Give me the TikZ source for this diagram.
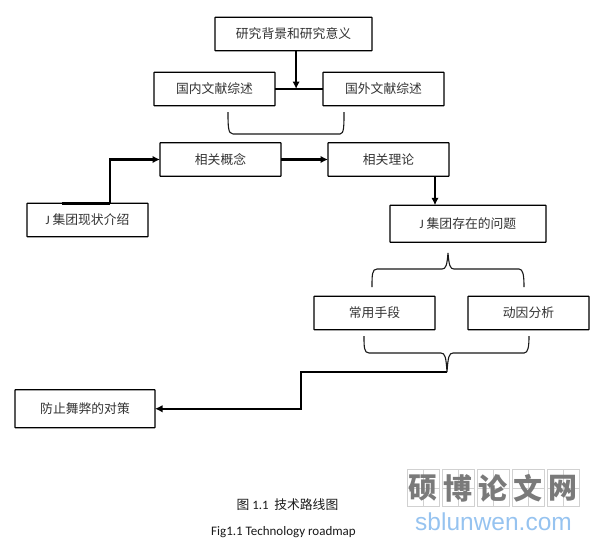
\documentclass[tikz,border=0pt]{standalone}
\usepackage{fontspec}
\setmainfont{Carlito}
\newfontfamily\cjk{Noto Sans CJK SC}
\newfontfamily\arialfont{Liberation Sans}
\usetikzlibrary{positioning, arrows.meta, calc}
\definecolor{markblue}{RGB}{150, 195, 240}

\begin{document}
\begin{tikzpicture}[
    x=1pt,
    y=1pt,
    >={Latex[length=7.5pt,width=7.5pt]},
    % -------------------------------------------------
    % Node styles
    % -------------------------------------------------
    stage/.style={
        rectangle,
        rounded corners=0.4pt,
        draw=black,
        line width=1.1pt,
        fill=white,
        minimum width=121pt,
        minimum height=33.5pt,
        outer sep=0pt,
        inner sep=0pt,
        align=center,
        text=black!80,
        font=\cjk\fontsize{12.8}{15}\selectfont
    },
    caption/.style={
        inner sep=0pt,
        text=black!90
    },
    % -------------------------------------------------
    % Connections
    % -------------------------------------------------
    arrow/.style={
        ->,
        line width=2.1pt,
        draw=black
    },
    joinline/.style={
        line width=2.1pt,
        draw=black
    },
    bracket/.style={
        line width=1.1pt,
        draw=black!90
    },
    % -------------------------------------------------
    % Watermark
    % -------------------------------------------------
    markcell/.style={
        rectangle,
        draw=black!18,
        line width=0.7pt,
        minimum width=31.7pt,
        minimum height=37pt,
        inner sep=0pt,
        text=black!52,
        font=\cjk\bfseries\fontsize{29}{29}\selectfont
    }
]

\useasboundingbox (0,0) rectangle (596,-541);

% =====================================================
% Background and Literature
% =====================================================

\node[stage, minimum width=157pt] (background) at (293.5,-34)
    {研究背景和研究意义};

\node[stage, below left=21.5pt and -60pt of background] (domestic)
    {国内文献综述};

\node[stage, right=48pt of domestic] (foreign)
    {国外文献综述};

% =====================================================
% Concepts and Theory
% =====================================================

\node[stage, below=37pt of domestic, xshift=6pt] (concept)
    {相关概念};

\node[stage, right=47pt of concept] (theory)
    {相关理论};

\node[stage, below left=27pt and 12pt of concept] (status)
    {{\rmfamily J} 集团现状介绍};

% =====================================================
% Problems and Analysis
% =====================================================

\node[stage, minimum width=156pt, minimum height=37pt,
      below right=29pt and -59pt of theory] (problem)
    {{\rmfamily J} 集团存在的问题};

\node[stage, below left=54pt and -45pt of problem] (means)
    {常用手段};

\node[stage, right=33pt of means] (motive)
    {动因分析};

\node[stage, minimum width=140pt, minimum height=38pt,
      below left=60pt and 159pt of means] (counter)
    {防止舞弊的对策};

% =====================================================
% Main Flow
% =====================================================

\coordinate (junction) at ($(domestic.east)!0.44!(foreign.west)$);
\coordinate (uppertip) at (448,-253);
\coordinate (lowertip) at (447,-372);

\draw[joinline]
    (domestic) -- (foreign);

\draw[arrow]
    (background.south -| junction) -- (junction);

\draw[arrow]
    (concept) -- (theory);

\draw[arrow]
    ([xshift=-14pt]theory.south east) -- ([xshift=45pt]problem.north west);

% =====================================================
% Status → Concept
% =====================================================

\draw[joinline, line width=3pt]
    ([xshift=35pt]status.north west) -- ([xshift=83pt]status.north west);

\draw[arrow]
    ([xshift=83pt]status.north west) |- (concept.west);

% =====================================================
% Analysis → Countermeasure
% =====================================================

\draw[arrow]
    (lowertip) -| ($(counter.east)+(146,0)$) -- (counter.east);

% =====================================================
% Brackets
% =====================================================

\draw[bracket]
    (228,-112) .. controls (228,-126) and (228,-134) .. (233,-134)
    -- (340,-134) .. controls (344,-134) and (344,-126) .. (344,-112);

\draw[bracket]
    (372,-287) .. controls (372,-275) and (372,-269) .. (377,-269)
    -- (442,-269) .. controls (446,-269) and (447,-265) .. (uppertip)
    .. controls (449,-265) and (450,-269) .. (454,-269)
    -- (519,-269) .. controls (523,-269) and (524,-275) .. (524,-287);

\draw[bracket]
    (364,-336) .. controls (364,-347) and (364,-353) .. (369,-353)
    -- (441,-353) .. controls (445,-353) and (446,-357) .. (lowertip)
    .. controls (448,-357) and (449,-353) .. (453,-353)
    -- (524,-353) .. controls (528,-353) and (529,-347) .. (529,-336);

% =====================================================
% Captions
% =====================================================

\node[caption, font=\fontsize{12.8}{14}\selectfont] (captioncn) at (287.5,-505)
    {{\cjk 图} 1.1 \ {\cjk 技术路线图}};

\node[caption, below=15pt of captioncn, xshift=-4pt,
      font=\fontsize{13}{15}\selectfont] (captionen)
    {Fig1.1 Technology roadmap};

% =====================================================
% Watermark
% =====================================================

\foreach \mychar [count=\i from 0] in {硕,博,论,文,网} {
    \node[markcell] (cell\i) at (423.2+35*\i,-488) {};
    \draw[black!18, line width=0.4pt]
        (cell\i.north) -- (cell\i.south)
        (cell\i.west) -- (cell\i.east);
    \node[markcell, draw=none] at (cell\i) {\mychar};
}

\node[inner sep=0pt, text=markblue, font=\arialfont\fontsize{24.5}{26}\selectfont]
    (website) at (493.5,-522) {sblunwen.com};

\end{tikzpicture}
\end{document}
